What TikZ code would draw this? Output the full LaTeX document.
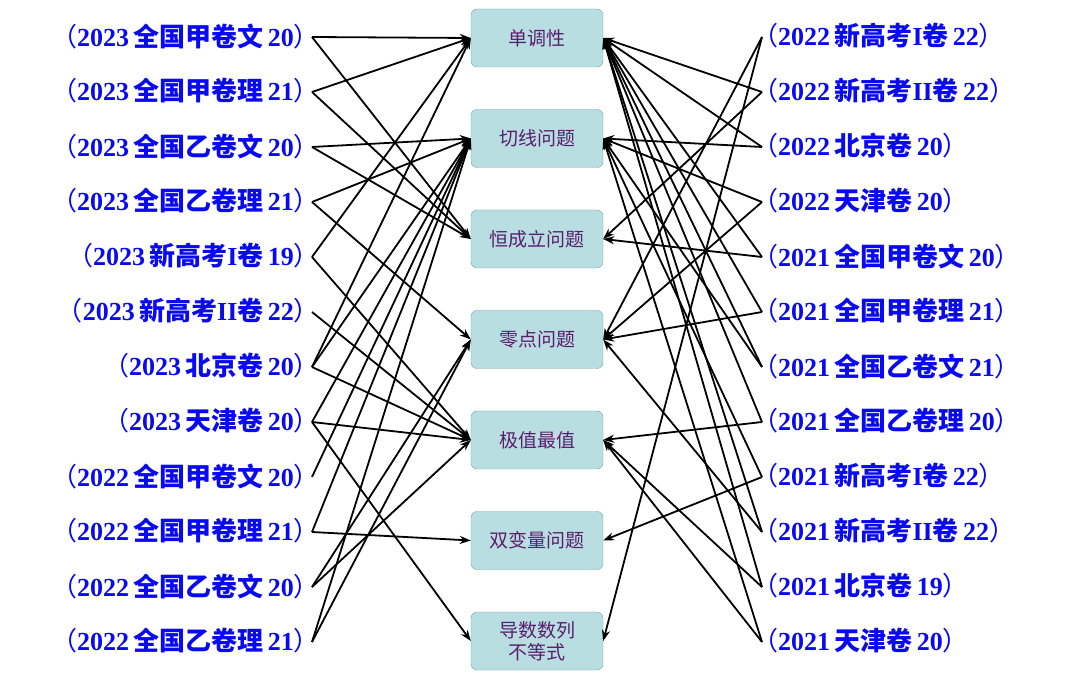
\documentclass[tikz,border=0pt]{standalone}
\usepackage{fontspec}
\setmainfont{Liberation Serif}
\newfontfamily\cjk{Noto Sans CJK SC}
\usetikzlibrary{arrows.meta}
\definecolor{boxfill}{RGB}{185,222,225}
\definecolor{boxdraw}{RGB}{120,160,165}
\definecolor{boxtxt}{RGB}{90,30,110}
\definecolor{lblue}{RGB}{10,10,240}
\newcommand{\lb}[3]{{\cjk\fontseries{m}\selectfont （}\textbf{#1}\,{\cjk\bfseries #2}\,\textbf{#3}{\cjk\fontseries{m}\selectfont ）}}
\newcommand{\rn}[1]{{\rmfamily\bfseries #1}}
\begin{document}
\begin{tikzpicture}[x=1pt,y=-1pt,
  topic/.style={draw=boxdraw,fill=boxfill,rounded corners=6pt,minimum width=132pt,minimum height=58pt,text=boxtxt,font=\cjk\fontsize{19}{22}\selectfont,align=center},
  lbl/.style={text=lblue,font=\fontsize{26}{30}\selectfont,inner sep=0pt},
  arr/.style={-{Stealth[length=11pt,width=8pt]},line width=1.8pt}]
\useasboundingbox (0,0) rectangle (1080,676);
\foreach \n/\t [count=\i] in {A/单调性,B/切线问题,C/恒成立问题,D/零点问题,E/极值最值,F/双变量问题,G/{导数数列\\不等式}}
  \node[topic] (\n) at (537,{38+100.5*(\i-1)}) {\t};
\foreach \a/\b/\c [count=\i] in {2023/全国甲卷文/20,2023/全国甲卷理/21,2023/全国乙卷文/20,2023/全国乙卷理/21,2023/新高考\rn{I}卷/19,2023/新高考\rn{II}卷/22,2023/北京卷/20,2023/天津卷/20,2022/全国甲卷文/20,2022/全国甲卷理/21,2022/全国乙卷文/20,2022/全国乙卷理/21}{
  \node[lbl,anchor=east] (T\i) at (320,{36+55*(\i-1)}) {\lb{\a}{\b}{\c}};
  \coordinate (L\i) at (312,{37+55*(\i-1)});}
\foreach \a/\b/\c [count=\i] in {2022/新高考\rn{I}卷/22,2022/新高考\rn{II}卷/22,2022/北京卷/20,2022/天津卷/20,2021/全国甲卷文/20,2021/全国甲卷理/21,2021/全国乙卷文/21,2021/全国乙卷理/20,2021/新高考\rn{I}卷/22,2021/新高考\rn{II}卷/22,2021/北京卷/19,2021/天津卷/20}{
  \node[lbl,anchor=west] (S\i) at (752,{36+55*(\i-1)}) {\lb{\a}{\b}{\c}};
  \coordinate (R\i) at (762,{37+55*(\i-1)});}
\foreach \s/\t in {1/A,1/C,2/A,2/C,3/B,3/C,4/B,4/D,5/A,5/E,6/E,7/A,7/B,7/E,8/B,8/E,8/G,9/B,10/B,10/F,11/D,11/E,12/B,12/D}
  \draw[arr] (L\s) -- (\t.west);
\foreach \s/\t in {1/D,1/G,2/A,2/C,3/A,3/B,4/B,4/D,5/A,5/C,6/A,6/D,7/A,7/B,8/A,8/E,9/B,9/F,10/A,10/D,11/A,11/E,12/B,12/E}
  \draw[arr] (R\s) -- (\t.east);
\end{tikzpicture}
\end{document}
